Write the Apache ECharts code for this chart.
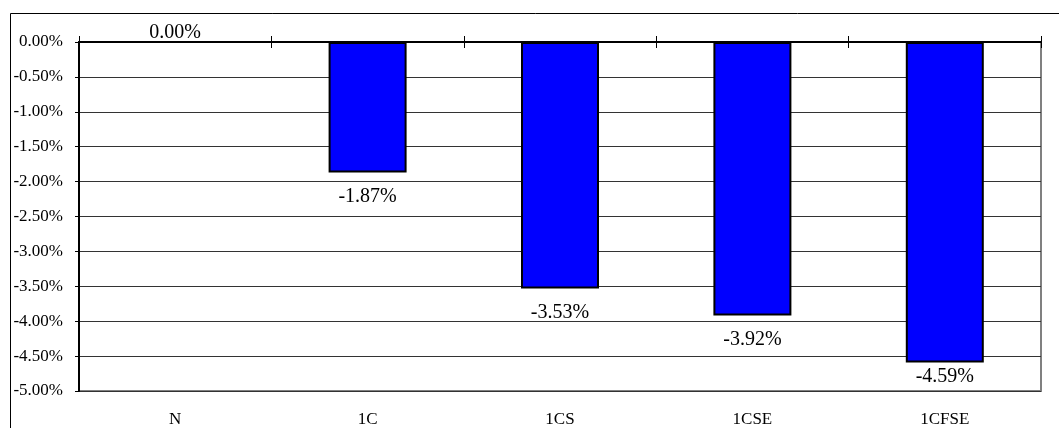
<!DOCTYPE html>
<html>
<head>
<meta charset="utf-8">
<script src="https://cdn.jsdelivr.net/npm/echarts@6/dist/echarts.min.js"></script>
<style>
  html, body { margin: 0; padding: 0; background: #fff; }
  #chart { width: 1059px; height: 428px; }
</style>
</head>
<body>
<div id="chart"></div>
<script>
const categories = ['N', '1C', '1CS', '1CSE', '1CFSE'];
const values = [0.00, -1.87, -3.53, -3.92, -4.59];

const serif = '"Liberation Serif", "Times New Roman", serif';
const chart = echarts.init(document.getElementById('chart'));

// plot height 349px over 5% -> labels near the bottom get pushed up to stay inside
const pxPerUnit = 349 / 5;

const option = {
    backgroundColor: '#fff',
    animation: false,
    graphic: [{
        type: 'rect',
        shape: { x: 10.5, y: 13.5, width: 1200, height: 600 },
        style: { fill: 'none', stroke: '#000', lineWidth: 1 },
        silent: true
    }],
    grid: {
        left: 79, right: 18, top: 42, bottom: 37,
        show: true, borderColor: '#808080', borderWidth: 2
    },
    xAxis: [
        {
            type: 'category', data: categories, position: 'bottom',
            axisLine: { show: false }, axisTick: { show: false },
            axisLabel: { color: '#000', fontFamily: serif, fontSize: 17, margin: 20 }
        },
        {
            type: 'category', data: categories, position: 'top',
            axisLine: { show: true, lineStyle: { color: '#000', width: 2 } },
            axisTick: { show: true, length: 6, lineStyle: { color: '#000' } },
            axisLabel: { show: false }
        },
        {
            type: 'category', data: categories, position: 'top',
            axisLine: { show: false },
            axisTick: { show: true, inside: true, length: 6, lineStyle: { color: '#000' } },
            axisLabel: { show: false }
        }
    ],
    yAxis: {
        type: 'value', min: -5, max: 0, interval: 0.5,
        axisLine: { show: true, lineStyle: { color: '#000', width: 2 } },
        axisTick: { show: true, length: 4, lineStyle: { color: '#000' } },
        splitLine: { show: true, lineStyle: { color: '#333', width: 1 } },
        axisLabel: {
            color: '#000', fontFamily: serif, fontSize: 17, margin: 16,
            formatter: v => v.toFixed(2) + '%'
        }
    },
    series: [{
        type: 'bar',
        xAxisIndex: 0,
        barWidth: 78,
        data: values.map(v => ({
            value: v,
            label: v < 0
                ? { position: 'bottom', distance: Math.min(14, (5 + v) * pxPerUnit - 24) }
                : { position: 'top', distance: -2 }
        })),
        itemStyle: { color: '#0000ff', borderColor: '#000', borderWidth: 2 },
        label: {
            show: true, color: '#000', fontFamily: serif, fontSize: 20,
            formatter: p => p.value.toFixed(2) + '%'
        }
    }]
};
chart.setOption(option);
</script>
</body>
</html>
